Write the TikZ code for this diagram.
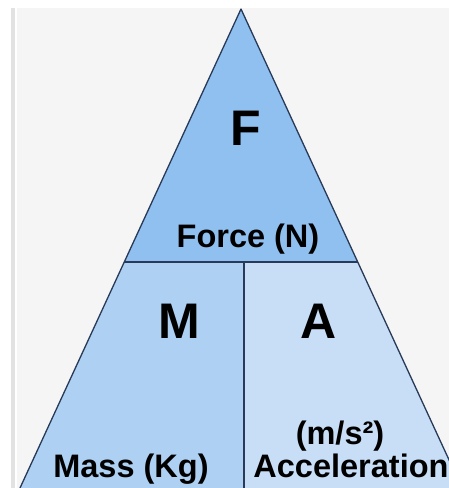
\documentclass[tikz,border=0pt]{standalone}
\usepackage{fontspec}
\setmainfont{Liberation Sans}

\definecolor{pagegrey}{RGB}{245,245,245}
\definecolor{stripgrey}{RGB}{226,226,226}
\definecolor{forceblue}{RGB}{143,192,240}
\definecolor{massblue}{RGB}{174,208,243}
\definecolor{accelblue}{RGB}{200,222,246}
\definecolor{edgenavy}{RGB}{40,58,88}

\begin{document}
\begin{tikzpicture}[
    x=1pt, y=-1pt,
    edge/.style={draw=edgenavy, line width=1.3pt, line join=round},
    letter/.style={font=\fontsize{50}{50}\selectfont\bfseries, anchor=base, inner sep=0pt},
    unitlabel/.style={font=\fontsize{32.5}{32.5}\selectfont\bfseries, anchor=base, inner sep=0pt}
]

% Rahmen
\useasboundingbox (0,0) rectangle (449,488);
\clip (0,0) rectangle (449,488);
\fill[white] (0,0) rectangle (449,488);
\fill[stripgrey] (11,8) rectangle (15,488);
\fill[pagegrey] (17,8) rectangle (449,488);

% Eckpunkte des Dreiecks
\coordinate (top) at (241,9);
\coordinate (bl) at (20,488);
\coordinate (br) at (462,488);
\coordinate (ml) at (124.3,262);
\coordinate (mr) at (357.7,262);
\coordinate (mid) at (244,262);
\coordinate (bm) at (244,488);

% Flaechen
\fill[forceblue] (top) -- (mr) -- (ml) -- cycle;
\fill[massblue] (ml) -- (mid) -- (bm) -- (bl) -- cycle;
\fill[accelblue] (mid) -- (mr) -- (br) -- (bm) -- cycle;

% Linien
\draw[edge] (bl) -- (top) -- (br);
\draw[edge] (ml) -- (mr);
\draw[edge] (mid) -- (bm);

% Buchstaben
\node[letter] (force) at (245.5,145) {F};
\node[letter] (mass) at (179.5,338) {M};
\node[letter] (accel) at (318.5,338) {A};

% Einheiten
\node[unitlabel] (forceunit) at (248,247) {Force (N)};
\node[unitlabel] (massunit) at (131,477) {Mass (Kg)};
\node[unitlabel] (accelunit) at (340,444) {(m/s²)};
\node[unitlabel] (accelname) at (351,477) {Acceleration};

\end{tikzpicture}
\end{document}
